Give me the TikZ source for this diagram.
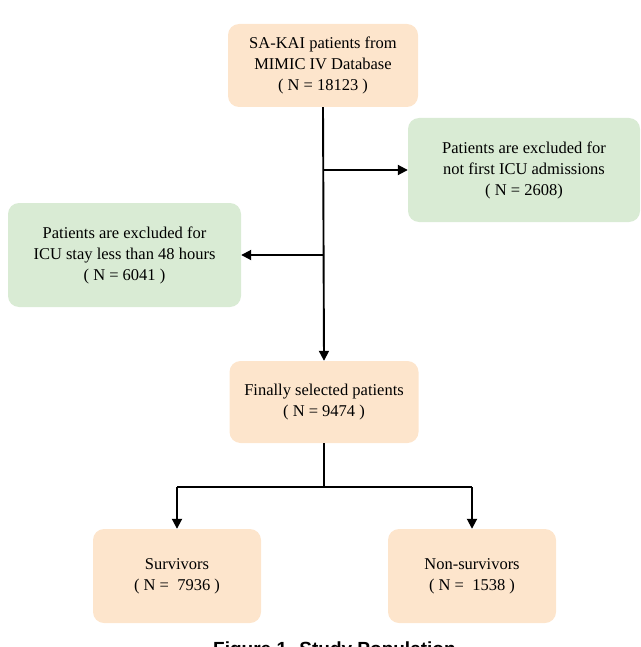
\documentclass[tikz,border=0pt]{standalone}
\usepackage{fontspec}
\setmainfont{Liberation Serif}
\newfontfamily\capfont{Liberation Sans}
\usetikzlibrary{arrows.meta}
\definecolor{peach}{HTML}{FDE5CC}
\definecolor{mint}{HTML}{D9EBD4}
\begin{document}
\begin{tikzpicture}[x=1pt,y=-1pt,
  box/.style={rounded corners=11pt, inner sep=0pt, align=center, font=\fontsize{16.5}{21}\selectfont},
  pbox/.style={box, fill=peach},
  gbox/.style={box, fill=mint},
  conn/.style={line width=1.9pt, black},
  arr/.style={conn, -{Triangle[length=10pt,width=10pt]}}]
\useasboundingbox (0,0) rectangle (640,647);
\node[pbox, minimum width=190pt, minimum height=83pt] (top) at (323,65.5) {SA-KAI patients from\\MIMIC IV Database\\( N = 18123 )};
\node[gbox, minimum width=232pt, minimum height=104pt] (excl1) at (524,170) {Patients are excluded for\\not first ICU admissions\\( N = 2608)};
\node[gbox, minimum width=233pt, minimum height=104pt] (excl2) at (124.5,255) {Patients are excluded for\\ICU stay less than 48 hours\\( N = 6041 )};
\node[pbox, minimum width=189pt, minimum height=82pt] (final) at (324,402) {Finally selected patients\\( N = 9474 )};
\node[pbox, minimum width=168pt, minimum height=94pt] (surv) at (177,576) {Survivors\\( N =\ \ 7936 )};
\node[pbox, minimum width=168pt, minimum height=94pt] (nonsurv) at (472,576) {Non-survivors\\( N =\ \ 1538 )};
\coordinate (b1) at (top.south |- excl1.west);
\coordinate (b2) at (top.south |- excl2.east);
\coordinate (split) at (final.south |- 0,487);
\coordinate (sl) at (surv.north |- split);
\coordinate (sr) at (nonsurv.north |- split);
\draw[arr] (top.south) -- (final.north);
\draw[arr] (b1) -- (excl1.west);
\draw[arr] (b2) -- (excl2.east);
\draw[conn] (final.south) -- (split);
\draw[conn] (sl) -- (sr);
\draw[arr] (sl) -- (surv.north);
\draw[arr] (sr) -- (nonsurv.north);
\node[anchor=north west, inner sep=0pt, font=\capfont\bfseries\fontsize{19}{22}\selectfont] (cap) at (213,641.5) {Figure 1. Study Population};
\end{tikzpicture}
\end{document}
